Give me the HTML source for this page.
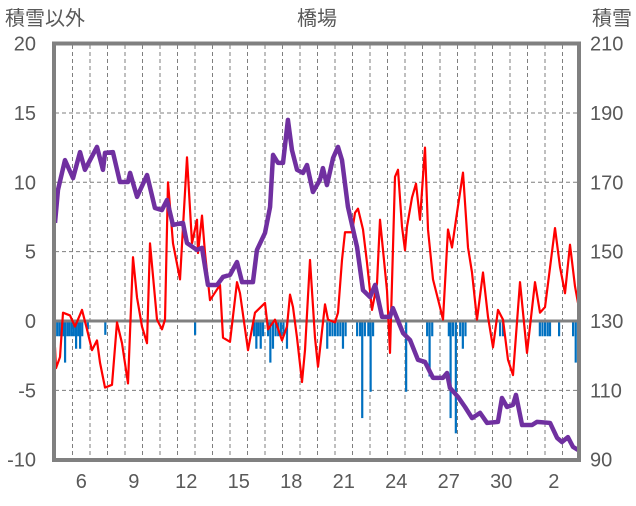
<!DOCTYPE html>
<html><head><meta charset="utf-8"><style>
body{margin:0;background:#fff;}
svg text{font-family:"Liberation Sans","Noto Sans CJK JP",sans-serif;fill:#595959;}
</style></head><body>
<svg id="chart" width="636" height="501" viewBox="0 0 636 501" xmlns="http://www.w3.org/2000/svg">
<text x="5" y="25" font-size="20">積雪以外</text>
<text x="317" y="25" font-size="20" text-anchor="middle">橋場</text>
<text x="632" y="25" font-size="20" text-anchor="end">積雪</text>
<g id="grid"></g><g id="bars"></g><g id="lines"></g><g id="labels"></g>
<rect x="54" y="43.5" width="525" height="416.5" fill="none" stroke="#808080" stroke-width="4"/>
</svg>
<script>
const leftTicks=[-10,-5,0,5,10,15,20];
const rightTicks=[90,110,130,150,170,190,210];
const dayLabels=["6","9","12","15","18","21","24","27","30","2"];
const dayLabelIdx=[1,4,7,10,13,16,19,22,25,28];
const snowT=[0,0.17,0.57,1.03,1.43,1.71,2.4,2.74,2.86,3.31,3.71,4.17,4.29,4.69,5.26,5.71,6.11,6.4,6.74,7.31,7.54,8.11,8.4,8.74,9.26,9.6,10,10.4,10.69,11.31,11.54,12,12.29,12.46,12.74,13.03,13.31,13.54,13.83,14.17,14.4,14.74,15.14,15.31,15.54,15.89,16.17,16.4,16.74,17.26,17.6,18,18.29,18.69,19.14,19.31,19.89,20.29,20.74,21.14,21.6,22.17,22.4,22.57,23.03,23.43,23.83,24.29,24.69,25.31,25.54,25.83,26.17,26.34,26.69,27.26,27.54,28.29,28.69,28.97,29.31,29.6,29.89];
const snowV=[158.3,167.8,176.4,171.2,178.7,173.6,180.2,173.6,178.5,178.7,170.1,170.1,172.7,165.8,172.1,162.6,162,164.9,157.7,158.3,152.5,150.5,151.1,140.4,140.4,142.7,143.3,147,141.2,141.2,150.5,155.4,162.9,177.9,175.6,175.6,188,179.3,173.6,172.7,175,167.2,170.7,174.1,169.2,177,180.2,176.4,162.9,151.3,138.9,136.9,140.4,131.2,131.2,133.7,126.5,124.5,118.8,118.2,113.6,113.6,115,110.7,108.1,105.2,102,103.5,100.6,100.9,107.8,105.2,105.8,108.7,100,100,100.9,100.6,96.3,95.1,96.5,93.7,92.8];
const tempX=[55,56,60,63,70,75,82,87,92,97,100,105,112,117,122,128,133,137,142,147,150,157,162,165,168,173,180,187,192,197,198,202,205,210,220,223,230,237,240,248,255,265,268,275,282,287,290,293,297,302,305,310,315,318,325,328,335,338,342,345,352,355,358,363,367,372,377,380,387,390,395,398,402,405,407,412,416,420,425,428,433,440,443,448,452,457,463,468,472,477,483,488,493,498,503,508,513,520,527,535,540,545,548,555,560,565,570,575,578];
const tempV=[-1.9,-3.4,-2.6,0.6,0.4,-0.4,0.8,-0.6,-2.1,-1.4,-3,-4.8,-4.6,-0.1,-1.6,-4.5,4.6,1.7,-0.4,-1.6,5.6,0.1,-0.6,0.1,10,5.6,3,11.8,5.6,7.3,4.9,7.6,4.9,1.5,2.6,-1.2,-1.5,2.8,2,-2.1,0.6,1.3,-0.6,0.1,-1.4,-0.4,1.9,1,-1.2,-4.4,-2.1,4.4,-1.2,-3.3,1.2,0.1,-0.1,0.6,4.4,6.4,6.4,7.8,8.1,6.6,4.2,0.8,2.7,7.3,2.2,-2.3,10.4,10.9,6.8,5.1,6.8,8.9,9.9,7.3,12.5,6.6,3,1,0.1,6.6,5.3,7.8,10.7,5.3,3.5,0.1,3.5,0.3,-1.9,0.8,0.1,-2.8,-3.9,2.8,-2.3,2.8,0.6,1,2.7,6.7,3.9,2,5.5,2.5,1.3];
const barT=[0.12,0.25,0.38,0.5,0.57,0.7,0.82,0.95,1.07,1.2,1.32,1.43,1.55,1.87,2.87,8.0,11.37,11.5,11.62,11.75,11.88,12.17,12.3,12.45,12.6,12.75,12.9,13.05,13.25,15.55,15.7,15.85,16.0,16.15,16.3,16.45,16.6,17.26,17.43,17.55,17.7,17.9,18.03,18.17,20.06,21.26,21.4,21.55,22.5,22.6,22.74,22.9,23.15,23.3,23.45,25.43,25.6,27.7,27.85,28.0,28.15,28.28,28.8,29.6,29.75,29.88];
const barV=[-1.1,-1.1,-1.1,-1.1,-3,-1.1,-1.1,-1.1,-1.1,-2,-1.1,-2,-1.1,-0.6,-1,-1,-1.1,-2,-1.1,-2,-1.1,-1.1,-3,-2,-1.1,-1.1,-1.1,-1.1,-2,-2,-1.1,-1.1,-1.1,-1.1,-1.1,-2,-1.1,-1.1,-1.1,-7,-1.1,-1.1,-5.1,-1.1,-5.1,-1.1,-4,-1.1,-1.1,-7,-1.1,-8.1,-1.1,-2,-1.1,-1.1,-1.1,-1.1,-1.1,-1.1,-1.1,-1.1,-1.1,-1.1,-3,-1.1];

const X0=55,DAY=17.5,Y0=321,K=13.87;
const xT=t=>X0+t*DAY;
const yL=v=>Y0-v*K;
const yR=s=>yL((s-130)/4);
const NS="http://www.w3.org/2000/svg";
function mk(tag,attrs,parent){const e=document.createElementNS(NS,tag);for(const k in attrs)e.setAttribute(k,attrs[k]);document.getElementById(parent).appendChild(e);return e;}

for(let d=1;d<30;d++){
  const l=mk('line',{x1:xT(d),x2:xT(d),y1:45,y2:459,stroke:'#7f7f7f','stroke-width':1,'stroke-dasharray':'4,3'},'grid');
  
  
}
leftTicks.forEach((v,i)=>{
  if(v!==0&&v!==20&&v!==-10){
    const l=mk('line',{x1:55,x2:578,y1:yL(v),y2:yL(v),stroke:'#7f7f7f','stroke-width':1,'stroke-dasharray':'4,3'},'grid');
    
    
  }
  const a=mk('text',{x:36,y:yL(v)+7,'font-size':20,'text-anchor':'end'},'labels');a.textContent=v;
  
  
  const b=mk('text',{x:590,y:yR(rightTicks[i])+7,'font-size':20},'labels');b.textContent=rightTicks[i];
  
  
});
dayLabels.forEach((s,i)=>{
  const t=mk('text',{x:xT(dayLabelIdx[i]+0.5),y:488,'font-size':20,'text-anchor':'middle'},'labels');t.textContent=s;
  
  
});
barT.forEach((t,i)=>{
  const y1=yL(0),y2=yL(barV[i]);
  const r=mk('rect',{x:xT(t)-1,y:Math.min(y1,y2),width:2.2,height:Math.abs(y2-y1),fill:'#0070c0'},'bars');
  
  
});
const z=mk('line',{x1:55,x2:578,y1:yL(0),y2:yL(0),stroke:'#808080','stroke-width':3},'lines');


const tp=mk('polyline',{points:tempX.map((x,i)=>x+','+yL(tempV[i])).join(' '),fill:'none',stroke:'#ff0000','stroke-width':2.2,'stroke-linejoin':'round'},'lines');


const sp=mk('polyline',{points:snowT.map((t,i)=>xT(t)+','+yR(snowV[i])).join(' '),fill:'none',stroke:'#7030a0','stroke-width':4.5,'stroke-linejoin':'round'},'lines');


</script>
</body></html>
